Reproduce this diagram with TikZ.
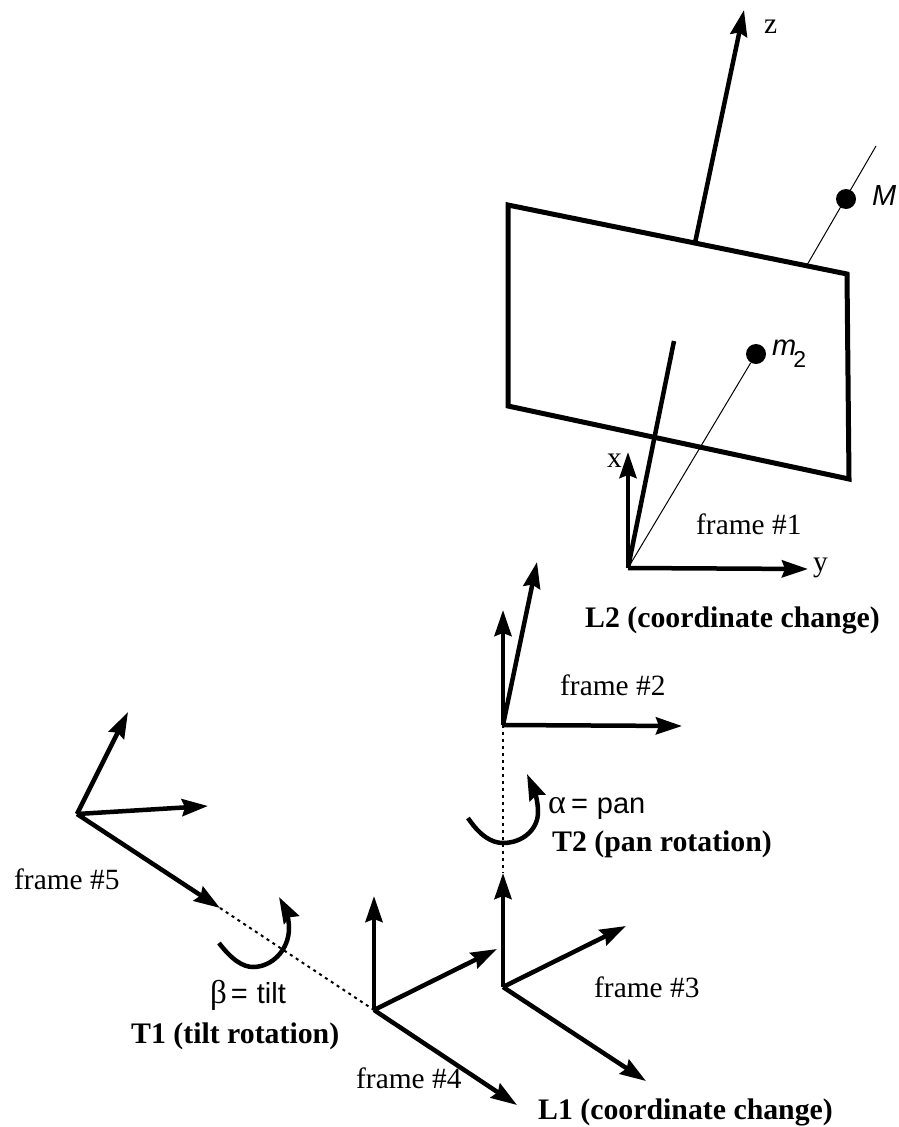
\documentclass[tikz,border=0pt]{standalone}
\usepackage{fontspec}
\setmainfont{Liberation Serif}
\setsansfont{Liberation Sans}
\usetikzlibrary{arrows.meta}
\tikzset{
  x=1pt,y=-1pt,
  axis/.style={line width=4.5pt,-{Stealth[length=26pt,width=17pt,inset=3pt]}},
  bar/.style={line width=4.5pt},
  curl/.style={line width=4.5pt,-{Stealth[length=26pt,width=17pt,inset=3pt]}},
  thin ray/.style={line width=1pt},
  dots/.style={line width=2pt,dash pattern=on 3pt off 4pt},
  plain label/.style={inner sep=0pt,anchor=base west,font=\fontsize{29.4}{34}\selectfont},
  bold label/.style={inner sep=0pt,anchor=base west,font=\fontsize{29.8}{34}\selectfont\bfseries},
  sans label/.style={inner sep=0pt,anchor=base west,font=\fontsize{29}{34}\selectfont\sffamily},
  sans slant/.style={sans label,font=\fontsize{29}{34}\selectfont\sffamily\itshape},
  blob/.style={circle,fill=black,inner sep=0pt,minimum size=20pt}
}
\begin{document}
\begin{tikzpicture}
\useasboundingbox (0,0) rectangle (898,1127);
% plane
\draw[line width=5pt,line join=miter] (508,205) -- (847,274) -- (849,479) -- (508,406) -- cycle;
% named points
\coordinate (zbase) at (695,243);
\coordinate (ztip) at (744,10);
\coordinate (raya) at (807,265);
\coordinate (rayb) at (876,146);
\node[blob] (M) at (846,199) {};
\node[blob] (m2) at (756,354) {};
\coordinate (o1) at (628,568);
\coordinate (o1x) at (628,452);
\coordinate (o1y) at (808,569);
\coordinate (o1z) at (674,341);
\coordinate (o2) at (503,725);
\coordinate (o2u) at (503,610);
\coordinate (o2s) at (537,562);
\coordinate (o2r) at (682,726);
\coordinate (o3) at (503,987);
\coordinate (o3u) at (503,873);
\coordinate (o3r) at (626,926);
\coordinate (o3d) at (646,1081);
\coordinate (o4) at (374,1010);
\coordinate (o4u) at (374,896);
\coordinate (o4r) at (497,949);
\coordinate (o4d) at (517,1105);
\coordinate (o5) at (77,814);
\coordinate (o5u) at (128,712);
\coordinate (o5r) at (208,806);
\coordinate (o5d) at (220,908);
% rays
\draw[thin ray] (raya) -- (rayb);
\draw[thin ray] (o1) -- (m2);
% axes
\draw[axis] (zbase) -- (ztip);
\draw[bar] (o1) -- (o1z);
\draw[axis] (o1) -- (o1x);
\draw[axis] (o1) -- (o1y);
\draw[axis] (o2) -- (o2u);
\draw[axis] (o2) -- (o2s);
\draw[axis] (o2) -- (o2r);
\draw[axis] (o3) -- (o3u);
\draw[axis] (o3) -- (o3r);
\draw[axis] (o3) -- (o3d);
\draw[axis] (o4) -- (o4u);
\draw[axis] (o4) -- (o4r);
\draw[axis] (o4) -- (o4d);
\draw[axis] (o5) -- (o5u);
\draw[axis] (o5) -- (o5r);
\draw[axis] (o5) -- (o5d);
% rotation axes
\draw[dots] (o2) -- (o3u);
\draw[dots] (o5d) -- (o4);
% rotation curls
\draw[curl] (468,818) .. controls (480,836) and (492,843) .. (503,843)
  .. controls (522,843) and (538,830) .. (538,812)
  .. controls (538,800) and (534,790) .. (527,774);
\draw[curl] (219,943) .. controls (232,960) and (243,967) .. (253,967)
  .. controls (272,967) and (289,950) .. (289,928)
  .. controls (289,918) and (285,908) .. (279,897);
% labels
\node[plain label] (lz) at (764,33) {z};
\node[plain label] (lx) at (607,467) {x};
\node[plain label] (ly) at (813,571) {y};
\node[sans slant] (lM) at (872,205) {M};
\node[sans slant] (lm) at (772,355) {m\kern-3pt\raisebox{-12pt}{\normalfont\sffamily\fontsize{23}{26}\selectfont 2}};
\node[plain label] (f1) at (696,534) {frame \#1};
\node[plain label] (f2) at (560,695) {frame \#2};
\node[plain label] (f3) at (594,997) {frame \#3};
\node[plain label] (f4) at (356,1088) {frame \#4};
\node[plain label] (f5) at (14,889) {frame \#5};
\node[bold label] (l2) at (585,627) {L2 (coordinate change)};
\node[bold label] (l1) at (538,1119) {L1 (coordinate change)};
\node[bold label] (t2) at (552,851) {T2 (pan rotation)};
\node[bold label] (t1) at (131,1043) {T1 (tilt rotation)};
\node[sans label] (pan) at (548,813) {{\rmfamily\fontsize{34}{34}\selectfont α}\kern5pt=\kern9pt pan};
\node[sans label] (tilt) at (210,1003) {{\rmfamily\fontsize{33}{34}\selectfont β}\kern4pt=\kern9pt tilt};
\end{tikzpicture}
\end{document}
